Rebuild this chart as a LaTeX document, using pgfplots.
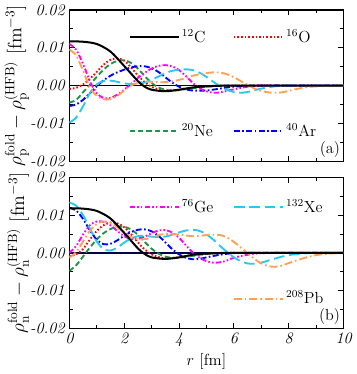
\documentclass[border=0pt]{standalone}
\usepackage{pgfplots}
\pgfplotsset{compat=1.18}
\definecolor{cC}{HTML}{000000}
\definecolor{cO}{HTML}{FF0000}
\definecolor{cNe}{HTML}{1E9646}
\definecolor{cAr}{HTML}{0000FF}
\definecolor{cGe}{HTML}{FF00FF}
\definecolor{cXe}{HTML}{28C8F5}
\definecolor{cPb}{HTML}{FFA055}
\tikzset{
 sC/.style={color=cC,line width=1.5pt},
 sO/.style={color=cO,line width=1.4pt,dash pattern=on 1.2pt off 1.5pt},
 sNe/.style={color=cNe,line width=1.4pt,dash pattern=on 4pt off 2.2pt},
 sAr/.style={color=cAr,line width=1.4pt,dash pattern=on 4.5pt off 1.8pt on 1.2pt off 1.8pt},
 sGe/.style={color=cGe,line width=1.4pt,dash pattern=on 4pt off 1.6pt on 1.2pt off 1.6pt on 1.2pt off 1.6pt},
 sXe/.style={color=cXe,line width=1.4pt,dash pattern=on 8pt off 3.5pt},
 sPb/.style={color=cPb,line width=1.4pt,dash pattern=on 6pt off 2.2pt on 1.2pt off 2.2pt},
}
\pgfplotsset{panel/.style={
 width=205pt,height=113pt,scale only axis,
 xmin=0,xmax=10,ymin=-0.02,ymax=0.02,
 xtick={0,2,...,10},minor x tick num=1,
 ytick={-0.02,-0.01,0,0.01,0.02},minor y tick num=1,
 yticklabels={-0.02,-0.01,0.00,0.01,0.02},
 scaled y ticks=false,
 tick label style={font=\large\itshape},
 xlabel style={font=\large,yshift=2pt},
 ylabel style={font=\Large,yshift=-6pt},
 xticklabels={0,2,4,6,8,10},
 tick align=inside,
 major tick length=4pt,minor tick length=2.5pt,
 axis line style={line width=0.8pt},
 every tick/.style={black,line width=0.6pt},
 clip=true,
}}
\begin{document}
\begin{tikzpicture}
\begin{axis}[panel,at={(0,125pt)},xticklabels={},
 ylabel={$\rho_{\rm p}^{\rm fold}-\rho_{\rm p}^{\rm (HFB)}$ [fm$^{-3}$]}]
\addplot[black,line width=1.2pt,forget plot] coordinates {(0,0) (10,0)};
\addplot[sO,smooth] coordinates {(0,-0.0009)(0.25,-0.0006)(0.5,0.0003)(0.75,0.0018)(1.0,0.0036)(1.25,0.0055)(1.5,0.0068)(1.75,0.0072)(2.0,0.0066)(2.25,0.0048)(2.5,0.0027)(2.75,0.0009)(3.0,-0.0003)(3.25,-0.0010)(3.5,-0.0013)(4,-0.0011)(4.5,-0.0006)(5,-0.0002)(6,0)(10,0)};
\addplot[sNe,smooth] coordinates {(0,-0.0045)(0.25,-0.0038)(0.5,-0.0018)(0.75,0.0002)(1.0,0.0023)(1.25,0.0042)(1.5,0.0057)(1.75,0.0065)(2.0,0.0067)(2.25,0.0060)(2.5,0.0045)(2.75,0.0025)(3.0,0.0007)(3.25,-0.0005)(3.5,-0.0011)(3.75,-0.0013)(4.0,-0.0012)(4.5,-0.0007)(5,-0.0003)(6,0)(10,0)};
\addplot[sAr,smooth] coordinates {(0,-0.0054)(0.25,-0.0050)(0.5,-0.0038)(0.75,-0.0020)(1.0,-0.0002)(1.25,0.0014)(1.5,0.0026)(1.75,0.0035)(2.0,0.0042)(2.25,0.0048)(2.5,0.0051)(2.75,0.0051)(3.0,0.0046)(3.25,0.0036)(3.5,0.0022)(3.75,0.0008)(4.0,-0.0003)(4.25,-0.0010)(4.5,-0.0013)(5.0,-0.0013)(5.5,-0.0008)(6,-0.0003)(7,0)(10,0)};
\addplot[sGe,smooth] coordinates {(0,0.0110)(0.25,0.0095)(0.5,0.0058)(0.75,0.0012)(1.0,-0.0020)(1.25,-0.0033)(1.5,-0.0033)(1.75,-0.0024)(2.0,-0.0011)(2.25,0.0004)(2.5,0.0020)(2.75,0.0034)(3.0,0.0045)(3.25,0.0052)(3.5,0.0054)(3.75,0.0051)(4.0,0.0041)(4.25,0.0025)(4.5,0.0007)(4.75,-0.0007)(5.0,-0.0015)(5.25,-0.0019)(5.5,-0.0018)(6.0,-0.0010)(6.5,-0.0003)(7,0)(10,0)};
\addplot[sXe,smooth] coordinates {(0,-0.0098)(0.25,-0.0085)(0.5,-0.0055)(0.75,-0.0020)(1.0,0.0003)(1.25,0.0012)(1.5,0.0013)(1.75,0.0010)(2.0,0.0006)(2.25,0.0004)(2.5,0.0004)(2.75,0.0008)(3.0,0.0015)(3.25,0.0024)(3.5,0.0033)(3.75,0.0039)(4.0,0.0042)(4.25,0.0043)(4.5,0.0041)(4.75,0.0034)(5.0,0.0023)(5.25,0.0010)(5.5,-0.0002)(5.75,-0.0011)(6.0,-0.0017)(6.25,-0.0019)(6.5,-0.0017)(7.0,-0.0008)(7.5,-0.0002)(8,0)(10,0)};
\addplot[sPb,smooth] coordinates {(0,0.0095)(0.25,0.0080)(0.5,0.0040)(0.75,-0.0005)(1.0,-0.0027)(1.25,-0.0036)(1.5,-0.0036)(1.75,-0.0027)(2.0,-0.0013)(2.25,0.0000)(2.5,0.0007)(2.75,0.0010)(3.0,0.0010)(3.25,0.0009)(3.5,0.0009)(3.75,0.0011)(4.0,0.0015)(4.25,0.0020)(4.5,0.0026)(4.75,0.0030)(5.0,0.0033)(5.25,0.0035)(5.5,0.0034)(5.75,0.0030)(6.0,0.0022)(6.25,0.0012)(6.5,0.0002)(6.75,-0.0008)(7.0,-0.0014)(7.25,-0.0018)(7.5,-0.0019)(7.75,-0.0018)(8.0,-0.0014)(8.5,-0.0006)(9,-0.0002)(10,0)};
\addplot[sC,smooth] coordinates {(0,0.0117)(0.5,0.0116)(1.0,0.0110)(1.5,0.0090)(2.0,0.0052)(2.5,0.0012)(2.75,-0.0003)(3.0,-0.0011)(3.5,-0.0015)(4,-0.0011)(4.5,-0.0005)(5,-0.0002)(6,0)(10,0)};
% key
\addplot[sC] coordinates {(2.2,0.0128)(4.0,0.0128)};
\addplot[sO] coordinates {(6.0,0.0128)(7.8,0.0128)};
\addplot[sNe] coordinates {(2.2,-0.0121)(4.0,-0.0121)};
\addplot[sAr] coordinates {(6.0,-0.0121)(7.8,-0.0121)};
\node[anchor=west,inner sep=1pt,font=\large] at (axis cs:4.05,0.0131) {$^{12}$C};
\node[anchor=west,inner sep=1pt,font=\large] at (axis cs:7.85,0.0131) {$^{16}$O};
\node[anchor=west,inner sep=1pt,font=\large] at (axis cs:4.05,-0.0118) {$^{20}$Ne};
\node[anchor=west,inner sep=1pt,font=\large] at (axis cs:7.85,-0.0118) {$^{40}$Ar};
\node[anchor=south east,inner sep=2.5pt,font=\large] at (rel axis cs:1,0) {(a)};
\end{axis}
\begin{axis}[panel,at={(0,0)},
 xlabel={$r$ [fm]},
 ylabel={$\rho_{\rm n}^{\rm fold}-\rho_{\rm n}^{\rm (HFB)}$ [fm$^{-3}$]}]
\addplot[black!70!blue,line width=1.2pt,forget plot] coordinates {(0,0) (10,0)};
\addplot[sO,smooth] coordinates {(0,-0.0009)(0.25,-0.0004)(0.5,0.0010)(0.75,0.0035)(1.0,0.0058)(1.25,0.0073)(1.5,0.0080)(1.75,0.0078)(2.0,0.0068)(2.25,0.0050)(2.5,0.0028)(2.75,0.0009)(3.0,-0.0004)(3.25,-0.0011)(3.5,-0.0014)(4,-0.0012)(4.5,-0.0007)(5,-0.0003)(6,0)(10,0)};
\addplot[sNe,smooth] coordinates {(0,-0.0048)(0.25,-0.0033)(0.5,-0.0010)(0.75,0.0014)(1.0,0.0035)(1.25,0.0052)(1.5,0.0063)(1.75,0.0069)(2.0,0.0069)(2.25,0.0062)(2.5,0.0048)(2.75,0.0029)(3.0,0.0011)(3.25,-0.0002)(3.5,-0.0010)(3.75,-0.0013)(4.0,-0.0013)(4.5,-0.0008)(5,-0.0003)(6,0)(10,0)};
\addplot[sAr,smooth] coordinates {(0,0.0119)(0.25,0.0112)(0.5,0.0090)(0.75,0.0060)(1.0,0.0035)(1.25,0.0023)(1.5,0.0024)(1.75,0.0033)(2.0,0.0045)(2.25,0.0055)(2.5,0.0061)(2.75,0.0062)(3.0,0.0057)(3.25,0.0045)(3.5,0.0028)(3.75,0.0010)(4.0,-0.0004)(4.25,-0.0013)(4.5,-0.0017)(4.75,-0.0016)(5.0,-0.0012)(5.5,-0.0005)(6,-0.0001)(7,0)(10,0)};
\addplot[sGe,smooth] coordinates {(0,0.0000)(0.25,0.0018)(0.5,0.0048)(0.75,0.0073)(1.0,0.0083)(1.25,0.0082)(1.5,0.0073)(1.75,0.0058)(2.0,0.0044)(2.25,0.0037)(2.5,0.0037)(2.75,0.0043)(3.0,0.0052)(3.25,0.0059)(3.5,0.0060)(3.75,0.0054)(4.0,0.0040)(4.25,0.0020)(4.5,0.0001)(4.75,-0.0013)(5.0,-0.0022)(5.25,-0.0026)(5.5,-0.0025)(5.75,-0.0020)(6.0,-0.0013)(6.5,-0.0005)(7,-0.0001)(8,0)(10,0)};
\addplot[sXe,smooth] coordinates {(0,0.0133)(0.25,0.0125)(0.5,0.0100)(0.75,0.0065)(1.0,0.0030)(1.25,0.0010)(1.5,0.0006)(1.75,0.0014)(2.0,0.0027)(2.25,0.0038)(2.5,0.0044)(2.75,0.0045)(3.0,0.0043)(3.25,0.0042)(3.5,0.0043)(3.75,0.0048)(4.0,0.0054)(4.25,0.0059)(4.5,0.0061)(4.75,0.0058)(5.0,0.0049)(5.25,0.0035)(5.5,0.0018)(5.75,0.0002)(6.0,-0.0012)(6.25,-0.0022)(6.5,-0.0028)(6.75,-0.0029)(7.0,-0.0026)(7.5,-0.0015)(8.0,-0.0006)(8.5,-0.0002)(9,0)(10,0)};
\addplot[sPb,smooth] coordinates {(0,-0.0013)(0.25,0.0002)(0.5,0.0030)(0.75,0.0058)(1.0,0.0076)(1.25,0.0083)(1.5,0.0080)(1.75,0.0068)(2.0,0.0054)(2.25,0.0042)(2.5,0.0036)(2.75,0.0036)(3.0,0.0041)(3.25,0.0047)(3.5,0.0050)(3.75,0.0050)(4.0,0.0048)(4.25,0.0046)(4.5,0.0044)(4.75,0.0045)(5.0,0.0047)(5.25,0.0048)(5.5,0.0047)(5.75,0.0041)(6.0,0.0029)(6.25,0.0014)(6.5,-0.0001)(6.75,-0.0016)(7.0,-0.0028)(7.25,-0.0035)(7.5,-0.0037)(7.75,-0.0034)(8.0,-0.0027)(8.5,-0.0015)(9.0,-0.0006)(9.5,-0.0002)(10,0)};
\addplot[sC,smooth] coordinates {(0,0.0118)(0.5,0.0117)(1.0,0.0111)(1.5,0.0091)(2.0,0.0053)(2.5,0.0012)(2.75,-0.0003)(3.0,-0.0012)(3.5,-0.0016)(4,-0.0012)(4.5,-0.0005)(5,-0.0002)(6,0)(10,0)};
% key
\addplot[sGe] coordinates {(2.2,0.0121)(4.0,0.0121)};
\addplot[sXe] coordinates {(6.0,0.0121)(7.8,0.0121)};
\addplot[sPb] coordinates {(6.0,-0.0121)(7.8,-0.0121)};
\node[anchor=west,inner sep=1pt,font=\large] at (axis cs:4.05,0.0124) {$^{76}$Ge};
\node[anchor=west,inner sep=1pt,font=\large] at (axis cs:7.85,0.0124) {$^{132}$Xe};
\node[anchor=west,inner sep=1pt,font=\large] at (axis cs:7.85,-0.0118) {$^{208}$Pb};
\node[anchor=south east,inner sep=2.5pt,font=\large] at (rel axis cs:1,0) {(b)};
\end{axis}
\end{tikzpicture}
\end{document}
